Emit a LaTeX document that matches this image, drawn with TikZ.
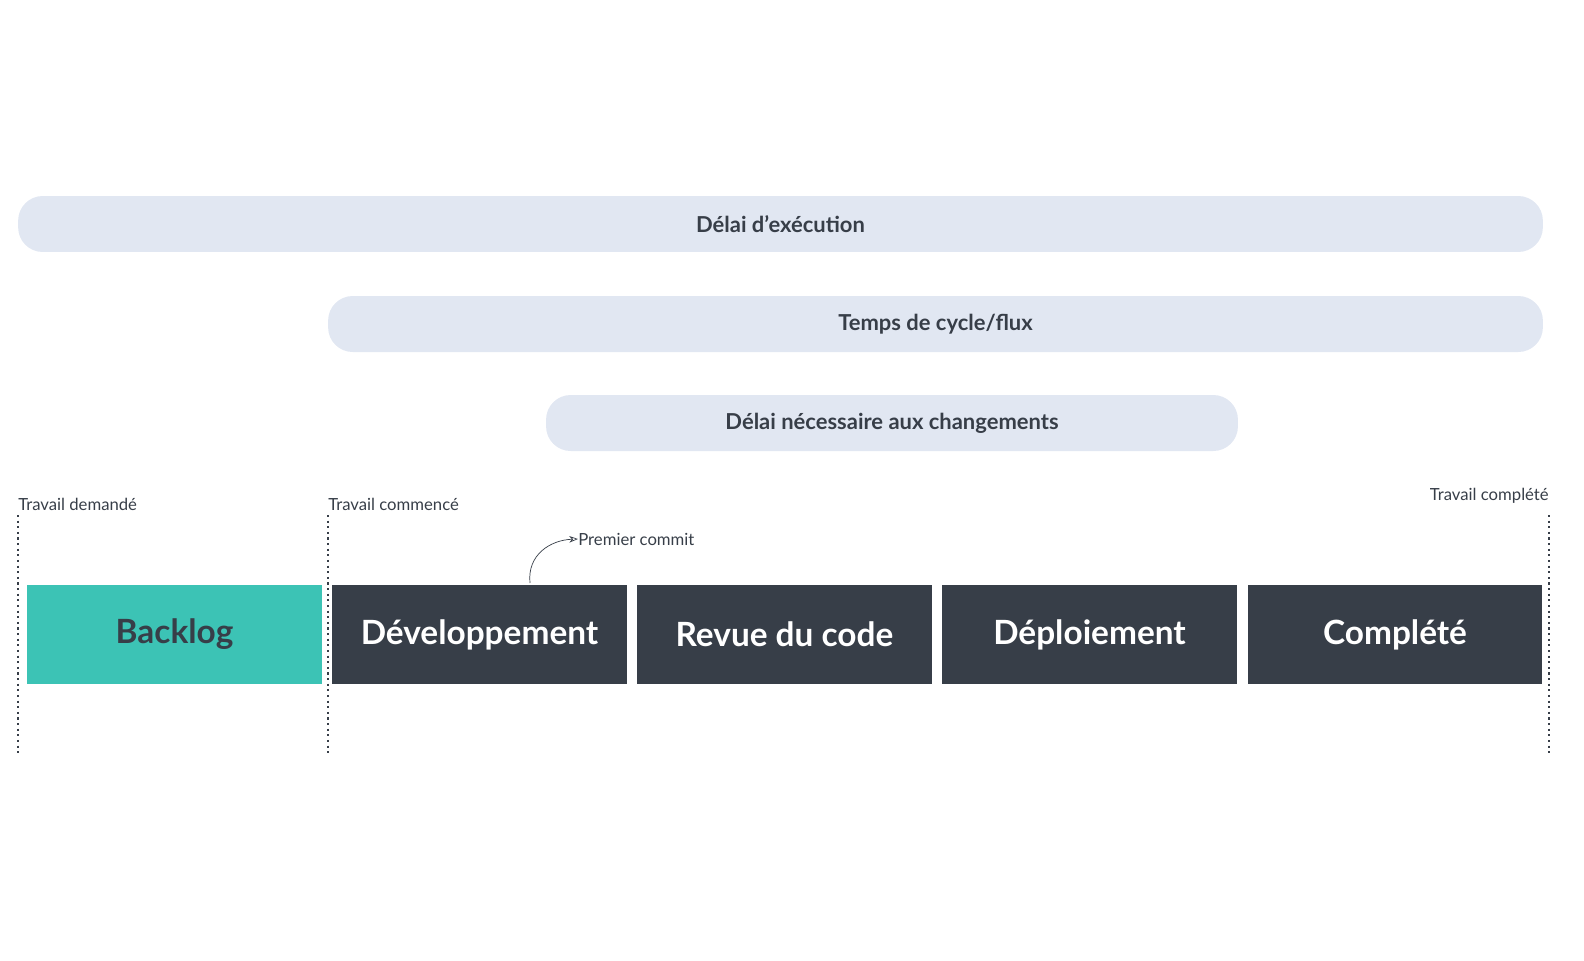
\documentclass[tikz,border=0pt]{standalone}
\usepackage{fontspec}
\setmainfont{Lato}
\usetikzlibrary{positioning,arrows.meta}
\definecolor{barblue}{HTML}{E1E7F2}
\definecolor{darkslate}{HTML}{373E48}
\definecolor{tealbox}{HTML}{3CC3B5}
\tikzset{
  spanbar/.style={fill=barblue, rounded corners=14pt, text=darkslate, font=\bfseries\fontsize{12.5}{14}\selectfont},
  stagebox/.style={fill=darkslate, minimum width=5.9cm, minimum height=1.98cm, inner sep=0pt, text=white, font=\bfseries\fontsize{19}{22}\selectfont},
  milestone/.style={darkslate, line width=1.2pt, dotted},
  smalllabel/.style={text=darkslate, font=\fontsize{9.5}{11}\selectfont, inner sep=0pt}
}
\begin{document}
\begin{tikzpicture}[x=0.02cm, y=-0.02cm]
    \useasboundingbox (0,0) rectangle (1584,960);

    % Bars
    \node[spanbar, minimum width=30.5cm, minimum height=1.12cm] (lead) at (780.5,224) {Délai d’exécution};
    \node[spanbar, minimum width=24.3cm, minimum height=1.12cm] (cycle) at (935.5,324) {Temps de cycle/flux};
    \node[spanbar, minimum width=13.84cm, minimum height=1.12cm] (change) at (892,423) {Délai nécessaire aux changements};

    % Milestones
    \coordinate (reqtop) at (18,515);  \coordinate (reqbot) at (18,755);
    \coordinate (sttop) at (328,515);  \coordinate (stbot) at (328,755);
    \coordinate (dntop) at (1549,515); \coordinate (dnbot) at (1549,755);
    \draw[milestone] (reqtop) -- (reqbot);
    \draw[milestone] (sttop) -- (stbot);
    \draw[milestone] (dntop) -- (dnbot);
    \node[smalllabel, anchor=south west] (reqlbl) at (18,511) {Travail demandé};
    \node[smalllabel, anchor=south west] (stlbl) at (328,511) {Travail commencé};
    \node[smalllabel, anchor=south east] (dnlbl) at (1549,504) {Travail complété};

    % Stages
    \node[stagebox, fill=tealbox, text=darkslate] (backlog) at (174.5,634.5) {Backlog};
    \node[stagebox] (dev) at (479.5,634.5) {Développement};
    \node[stagebox] (review) at (784.5,634.5) {Revue du code};
    \node[stagebox] (deploy) at (1089.5,634.5) {Déploiement};
    \node[stagebox] (done) at (1395,634.5) {Complété};

    % First commit
    \node[smalllabel, anchor=west] (commit) at (578,539) {Premier commit};
    \coordinate (commitfoot) at (530,583);
    \draw[-{Stealth[open,length=5pt]}, darkslate, thin] (commitfoot) .. controls (527,555) and (550,540) .. (commit.west);
\end{tikzpicture}
\end{document}
